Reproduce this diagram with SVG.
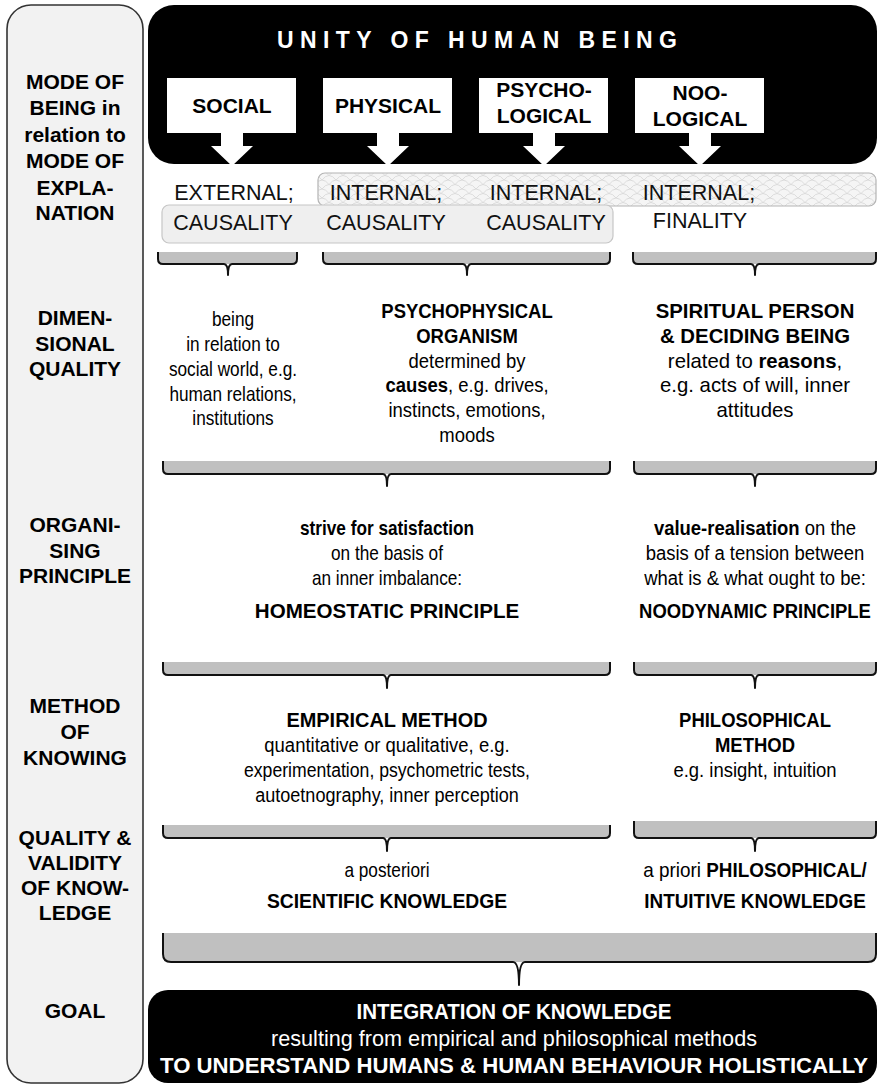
<svg xmlns="http://www.w3.org/2000/svg" width="881" height="1088" viewBox="0 0 881 1088">
  <defs>
    <!-- fine scale texture for the "internal" band -->
    <pattern id="scales" width="14" height="9" patternUnits="userSpaceOnUse">
      <rect width="14" height="9" fill="#f5f5f5"/>
      <path d="M0,9 Q7,0 14,9 M-7,4.5 Q0,-4.5 7,4.5 M7,4.5 Q14,-4.5 21,4.5" fill="none" stroke="#d4d4d4" stroke-width="0.8"/>
    </pattern>
  </defs>
  <style>
    .lbl { font-family: "Liberation Sans", Arial, sans-serif; font-weight: bold; font-size: 21px; text-anchor: middle; fill: #000; }
    .hdr { font-family: "Liberation Sans", Arial, sans-serif; font-weight: bold; font-size: 21px; text-anchor: middle; fill: #000; }
    .mode { font-family: "Liberation Sans", Arial, sans-serif; font-size: 21.5px; text-anchor: middle; fill: #111; }
    .body { font-family: "Liberation Sans", Arial, sans-serif; font-size: 21px; text-anchor: middle; fill: #000; }
    .goal { font-family: "Liberation Sans", Arial, sans-serif; font-size: 22px; text-anchor: middle; fill: #fff; }
    .b { font-weight: bold; }
    .brk-fill { fill: #c0c0c0; stroke: none; }
    .brk { fill: none; stroke: #111; stroke-width: 2; stroke-linejoin: round; }
  </style>

  <!-- left column of row headings -->
  <g id="row-labels">
    <rect x="7" y="5" width="136" height="1078" rx="24" fill="#f2f2f2" stroke="#333" stroke-width="1.6"/>
    <text class="lbl" x="75" y="89">MODE OF</text>
    <text class="lbl" x="75" y="115">BEING in</text>
    <text class="lbl" x="75" y="142">relation to</text>
    <text class="lbl" x="75" y="168">MODE OF</text>
    <text class="lbl" x="75" y="195">EXPLA-</text>
    <text class="lbl" x="75" y="220">NATION</text>

    <text class="lbl" x="75" y="325">DIMEN-</text>
    <text class="lbl" x="75" y="351">SIONAL</text>
    <text class="lbl" x="75" y="376">QUALITY</text>

    <text class="lbl" x="75" y="532">ORGANI-</text>
    <text class="lbl" x="75" y="558">SING</text>
    <text class="lbl" x="75" y="583">PRINCIPLE</text>

    <text class="lbl" x="75" y="713">METHOD</text>
    <text class="lbl" x="75" y="739">OF</text>
    <text class="lbl" x="75" y="765">KNOWING</text>

    <text class="lbl" x="75" y="845">QUALITY &amp;</text>
    <text class="lbl" x="75" y="870">VALIDITY</text>
    <text class="lbl" x="75" y="895">OF KNOW-</text>
    <text class="lbl" x="75" y="920">LEDGE</text>

    <text class="lbl" x="75" y="1018">GOAL</text>
  </g>

  <!-- top block: unity of the human being with its four dimensions -->
  <g id="unity">
    <rect x="148" y="5" width="729" height="159" rx="26" fill="#000"/>
    <text x="277" y="48" textLength="400" lengthAdjust="spacing" font-family="Liberation Sans, Arial, sans-serif" font-weight="bold" font-size="23" fill="#fff">UNITY OF HUMAN BEING</text>
  </g>
  <g id="dim-social">
    <path d="M167 78 H296 V133 H243 V146 H253 L232 166 L211 146 H221 V133 H167 Z" fill="#fff"/>
    <text class="hdr" x="232" y="113">SOCIAL</text>
  </g>
  <g id="dim-physical">
    <path d="M323 78 H452 V133 H399 V146 H409 L388 166 L367 146 H377 V133 H323 Z" fill="#fff"/>
    <text class="hdr" x="388" y="113">PHYSICAL</text>
  </g>
  <g id="dim-psychological">
    <path d="M479 78 H608 V133 H555 V146 H565 L544 166 L523 146 H533 V133 H479 Z" fill="#fff"/>
    <text class="hdr" x="544" y="97">PSYCHO-</text>
    <text class="hdr" x="544" y="123">LOGICAL</text>
  </g>
  <g id="dim-noological">
    <path d="M635 78 H764 V133 H711 V146 H721 L700 166 L679 146 H689 V133 H635 Z" fill="#fff"/>
    <text class="hdr" x="700" y="100">NOO-</text>
    <text class="hdr" x="700" y="126">LOGICAL</text>
  </g>

  <!-- mode of explanation: internal band and causality band -->
  <g id="explanation">
    <rect x="318" y="173" width="558" height="33" rx="7" fill="url(#scales)" stroke="#b4b4b4" stroke-width="1.2"/>
    <rect x="162" y="205" width="451" height="38" rx="7" fill="#efefef" stroke="#c6c6c6" stroke-width="1.2"/>
    <text class="mode" x="234" y="200">EXTERNAL;</text>
    <text class="mode" x="386" y="200">INTERNAL;</text>
    <text class="mode" x="546" y="200">INTERNAL;</text>
    <text class="mode" x="699" y="200">INTERNAL;</text>
    <text class="mode" x="233" y="230">CAUSALITY</text>
    <text class="mode" x="386" y="230">CAUSALITY</text>
    <text class="mode" x="546" y="230">CAUSALITY</text>
    <text class="mode" x="700" y="228">FINALITY</text>
  </g>

  <!-- brace connectors between the rows -->
  <g id="connectors">
    <path class="brk-fill" d="M158 252 V259 Q158 264 163 264 H292 Q297 264 297 259 V252 Z"/>
    <path class="brk" d="M158 252 V259 Q158 264 163 264 H224 Q228 264 228 275 Q228 264 232 264 H292 Q297 264 297 259 V252"/>
    <path class="brk-fill" d="M323 252 V259 Q323 264 328 264 H605 Q610 264 610 259 V252 Z"/>
    <path class="brk" d="M323 252 V259 Q323 264 328 264 H463 Q467 264 467 275 Q467 264 471 264 H605 Q610 264 610 259 V252"/>
    <path class="brk-fill" d="M633 252 V259 Q633 264 638 264 H871 Q876 264 876 259 V252 Z"/>
    <path class="brk" d="M633 252 V259 Q633 264 638 264 H751 Q755 264 755 275 Q755 264 759 264 H871 Q876 264 876 259 V252"/>

    <path class="brk-fill" d="M163 461 V469 Q163 474 168 474 H605 Q610 474 610 469 V461 Z"/>
    <path class="brk" d="M163 461 V469 Q163 474 168 474 H383 Q387 474 387 486 Q387 474 391 474 H605 Q610 474 610 469 V461"/>
    <path class="brk-fill" d="M634 461 V469 Q634 474 639 474 H871 Q876 474 876 469 V461 Z"/>
    <path class="brk" d="M634 461 V469 Q634 474 639 474 H751 Q755 474 755 486 Q755 474 759 474 H871 Q876 474 876 469 V461"/>

    <path class="brk-fill" d="M163 662 V670 Q163 675 168 675 H605 Q610 675 610 670 V662 Z"/>
    <path class="brk" d="M163 662 V670 Q163 675 168 675 H383 Q387 675 387 688 Q387 675 391 675 H605 Q610 675 610 670 V662"/>
    <path class="brk-fill" d="M634 662 V670 Q634 675 639 675 H871 Q876 675 876 670 V662 Z"/>
    <path class="brk" d="M634 662 V670 Q634 675 639 675 H751 Q755 675 755 688 Q755 675 759 675 H871 Q876 675 876 670 V662"/>

    <path class="brk-fill" d="M163 825 V833 Q163 838 168 838 H605 Q610 838 610 833 V825 Z"/>
    <path class="brk" d="M163 825 V833 Q163 838 168 838 H383 Q387 838 387 851 Q387 838 391 838 H605 Q610 838 610 833 V825"/>
    <path class="brk-fill" d="M634 821 V833 Q634 838 639 838 H871 Q876 838 876 833 V821 Z"/>
    <path class="brk" d="M634 821 V833 Q634 838 639 838 H751 Q755 838 755 851 Q755 838 759 838 H871 Q876 838 876 833 V821"/>

    <path class="brk-fill" d="M163 933 V954 Q163 962 171 962 H868 Q876 962 876 954 V933 Z"/>
    <path class="brk" d="M163 933 V954 Q163 962 171 962 H513 Q519 962 519 985 Q519 962 525 962 H868 Q876 962 876 954 V933"/>
  </g>

  <!-- dimensional quality -->
  <g id="quality-social" transform="translate(233 0) scale(0.82 1)">
    <text class="body" x="0" y="326">being</text>
    <text class="body" x="0" y="351">in relation to</text>
    <text class="body" x="0" y="376">social world, e.g.</text>
    <text class="body" x="0" y="401">human relations,</text>
    <text class="body" x="0" y="425">institutions</text>
  </g>
  <g id="quality-psychophysical" transform="translate(467 0) scale(0.88 1)">
    <text class="body b" x="0" y="318">PSYCHOPHYSICAL</text>
    <text class="body b" x="0" y="343">ORGANISM</text>
    <text class="body" x="0" y="368">determined by</text>
    <text class="body" x="0" y="392"><tspan class="b">causes</tspan>, e.g. drives,</text>
    <text class="body" x="0" y="417">instincts, emotions,</text>
    <text class="body" x="0" y="442">moods</text>
  </g>
  <g id="quality-spiritual" transform="translate(755 0) scale(0.97 1)">
    <text class="body b" x="0" y="318">SPIRITUAL PERSON</text>
    <text class="body b" x="0" y="343">&amp; DECIDING BEING</text>
    <text class="body" x="0" y="368">related to <tspan class="b">reasons</tspan>,</text>
    <text class="body" x="0" y="392">e.g. acts of will, inner</text>
    <text class="body" x="0" y="417">attitudes</text>
  </g>

  <!-- organising principle -->
  <g id="principle-homeostatic" transform="translate(387 0)">
    <text class="body b" x="0" y="535" transform="scale(0.82 1)">strive for satisfaction</text>
    <text class="body" x="0" y="560" transform="scale(0.82 1)">on the basis of</text>
    <text class="body" x="0" y="585" transform="scale(0.82 1)">an inner imbalance:</text>
    <text class="body b" x="0" y="618" transform="scale(0.98 1)">HOMEOSTATIC PRINCIPLE</text>
  </g>
  <g id="principle-noodynamic" transform="translate(755 0) scale(0.88 1)">
    <text class="body" x="0" y="535"><tspan class="b">value-realisation</tspan> on the</text>
    <text class="body" x="0" y="560">basis of a tension between</text>
    <text class="body" x="0" y="585">what is &amp; what ought to be:</text>
    <text class="body b" x="0" y="618">NOODYNAMIC PRINCIPLE</text>
  </g>

  <!-- method of knowing -->
  <g id="method-empirical" transform="translate(387 0)">
    <text class="body b" x="0" y="727" transform="scale(0.95 1)">EMPIRICAL METHOD</text>
    <text class="body" x="0" y="752" transform="scale(0.88 1)">quantitative or qualitative, e.g.</text>
    <text class="body" x="0" y="777" transform="scale(0.84 1)">experimentation, psychometric tests,</text>
    <text class="body" x="0" y="802" transform="scale(0.86 1)">autoetnography, inner perception</text>
  </g>
  <g id="method-philosophical" transform="translate(755 0) scale(0.88 1)">
    <text class="body b" x="0" y="727">PHILOSOPHICAL</text>
    <text class="body b" x="0" y="752">METHOD</text>
    <text class="body" x="0" y="777">e.g. insight, intuition</text>
  </g>

  <!-- quality and validity of knowledge -->
  <g id="knowledge-scientific" transform="translate(387 0)">
    <text class="body" x="0" y="877" transform="scale(0.82 1)">a posteriori</text>
    <text class="body b" x="0" y="908" transform="scale(0.92 1)">SCIENTIFIC KNOWLEDGE</text>
  </g>
  <g id="knowledge-philosophical" transform="translate(755 0) scale(0.9 1)">
    <text class="body" x="0" y="877">a priori <tspan class="b">PHILOSOPHICAL/</tspan></text>
    <text class="body b" x="0" y="908">INTUITIVE KNOWLEDGE</text>
  </g>

  <!-- goal -->
  <g id="goal">
    <rect x="148" y="990" width="729" height="93" rx="20" fill="#000"/>
    <text class="goal b" x="514" y="1019" textLength="315" lengthAdjust="spacingAndGlyphs">INTEGRATION OF KNOWLEDGE</text>
    <text class="goal" x="514" y="1046" textLength="486" lengthAdjust="spacingAndGlyphs">resulting from empirical and philosophical methods</text>
    <text class="goal b" x="514" y="1073" textLength="708" lengthAdjust="spacingAndGlyphs">TO UNDERSTAND HUMANS &amp; HUMAN BEHAVIOUR HOLISTICALLY</text>
  </g>
</svg>
